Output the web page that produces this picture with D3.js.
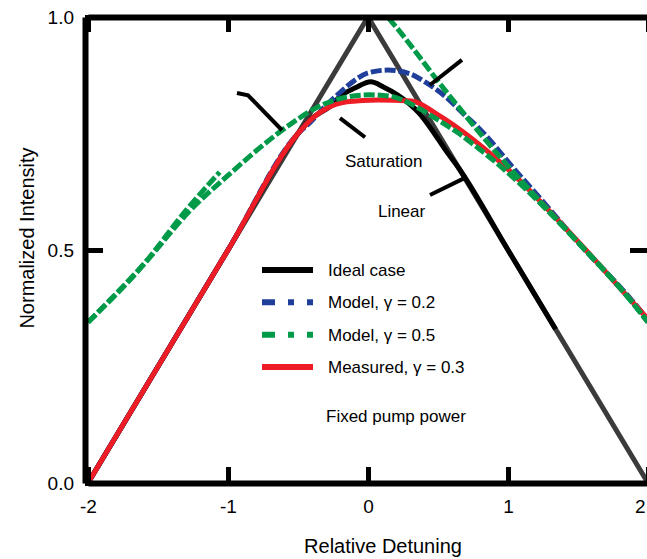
<!DOCTYPE html>
<html>
<head>
<meta charset="utf-8">
<script src="https://cdn.jsdelivr.net/npm/d3@7/dist/d3.min.js"></script>
<style>
  html, body { margin: 0; padding: 0; background: #fff; }
  svg text { font-family: "Liberation Sans", Arial, sans-serif; fill: #000; }
</style>
</head>
<body>
<svg id="chart" width="647" height="559"></svg>
<script>
// ---- data -------------------------------------------------------------
const xTickValues = [-2, -1, 0, 1, 2];
const xTickLabels = ["-2", "-1", "0", "1", "2"];
const yTickValues = [0, 0.5, 1];
const yTickLabels = ["0.0", "0.5", "1.0"];

// ideal triangular response
const tentSeries = [[-2, 0], [0, 1], [2, 0]];
// rounded response (black)
const blackSeries = [[-2, 0], [-1, 0.5], [-0.5, 0.75], [-0.39, 0.785], [-0.27, 0.808],
  [-0.19, 0.832], [-0.09, 0.848], [0.02, 0.861], [0.11, 0.85], [0.21, 0.833], [0.37, 0.792],
  [0.46, 0.756], [0.55, 0.716], [0.65, 0.675], [1, 0.5], [1.34, 0.33]];
const blueSeries = [[-2, 0], [-1.5, 0.25], [-1, 0.5], [-0.5, 0.75], [-0.41, 0.775], [-0.3, 0.81],
  [-0.2, 0.838], [-0.1, 0.863], [0.0, 0.88], [0.14, 0.886], [0.3, 0.878], [0.41, 0.86],
  [0.55, 0.83], [0.69, 0.79], [0.79, 0.762], [1.05, 0.672], [1.29, 0.59],
  [1.46, 0.53], [1.89, 0.39], [2, 0.35]];
const greenLowerSeries = [[-2, 0.345], [-1.6, 0.47], [-1.27, 0.585], [-1.0, 0.66], [-0.75, 0.725],
  [-0.53, 0.775], [-0.37, 0.805], [-0.2, 0.825], [0.01, 0.833], [0.16, 0.83], [0.26, 0.82],
  [0.37, 0.803], [0.5, 0.779], [0.64, 0.752], [0.79, 0.718], [0.91, 0.689], [1.05, 0.652],
  [1.464, 0.528], [1.886, 0.388], [2, 0.345]];
const greenUpperSeries = [[-2, 0.345], [-1.6, 0.47], [-1.3, 0.585], [-1.06, 0.667],
  null,
  [0.08, 1.02], [0.157, 0.994], [0.55, 0.843], [0.871, 0.725], [1.464, 0.528], [1.886, 0.388], [2, 0.345]];
const redSeries = [[-2, 0], [-1.5, 0.25], [-1, 0.5], [-0.5, 0.75], [-0.4, 0.782], [-0.3, 0.803],
  [-0.15, 0.818], [0.07, 0.822], [0.31, 0.82], [0.5, 0.79], [0.87, 0.708],
  [1.51, 0.515], [1.93, 0.375], [2, 0.352]];

const legendLabels = ["Ideal case", "Model, \u03b3 = 0.2", "Model, \u03b3 = 0.5", "Measured, \u03b3 = 0.3"];
const legendColors = ["#000000", "#1f3f9a", "#009a49", "#ee1c25"];
const legendDashes = [null, "13,13,6,13,6", "13,13,6,13,6", null];

// ---- layout -----------------------------------------------------------
const svg = d3.select("#chart");
const x = d3.scaleLinear().domain([-2, 2]).range([88, 648]);
const y = d3.scaleLinear().domain([0, 1]).range([483, 17]);

const smooth = d3.line()
  .defined(d => d !== null)
  .x(d => x(d[0]))
  .y(d => y(d[1]))
  .curve(d3.curveMonotoneX);
const straight = d3.line().x(d => x(d[0])).y(d => y(d[1]));

svg.append("defs").append("clipPath").attr("id", "plot-clip")
  .append("rect").attr("x", 84).attr("y", 16).attr("width", 570).attr("height", 470);

const plot = svg.append("g").attr("clip-path", "url(#plot-clip)");

function drawSeries(data, gen, color, width, dash) {
  plot.append("path")
    .datum(data)
    .attr("d", gen)
    .attr("fill", "none")
    .attr("stroke", color)
    .attr("stroke-width", width)
    .attr("stroke-dasharray", dash)
    .attr("stroke-linejoin", "miter");
}

drawSeries(tentSeries, straight, "#3b3b3b", 5, null);
drawSeries(blackSeries, smooth, "#000000", 5, null);
drawSeries(blueSeries, smooth, "#1f3f9a", 5, "11,3");
drawSeries(redSeries, smooth, "#ee1c25", 5, null);
drawSeries(greenLowerSeries, smooth, "#009a49", 5, "11,3");
drawSeries(greenUpperSeries, smooth, "#009a49", 5, "11,3");

// ---- axes -------------------------------------------------------------
function styleAxis(g) {
  g.select(".domain").attr("stroke", "#000").attr("stroke-width", 6);
  g.selectAll(".tick line").attr("stroke", "#000").attr("stroke-width", 5);
  g.selectAll(".tick text").style("font-size", "19px").attr("fill", "#000");
}

const bottomAxis = svg.append("g").attr("transform", "translate(0,483)")
  .call(d3.axisBottom(x).tickValues(xTickValues)
    .tickFormat((d, i) => xTickLabels[i])
    .tickSizeInner(-16).tickSizeOuter(0).tickPadding(17))
  .call(styleAxis);
// keep the last label inside the page
bottomAxis.selectAll(".tick text").filter(d => d === 2)
  .attr("text-anchor", "end").attr("dx", "-3px");

svg.append("g").attr("transform", "translate(0,17)")
  .call(d3.axisTop(x).tickValues(xTickValues).tickFormat("")
    .tickSizeInner(-15).tickSizeOuter(0))
  .call(styleAxis);

svg.append("g").attr("transform", "translate(85,0)")
  .call(d3.axisLeft(y).tickValues(yTickValues)
    .tickFormat((d, i) => yTickLabels[i])
    .tickSizeInner(-18).tickSizeOuter(0).tickPadding(11))
  .call(styleAxis);

svg.append("g").attr("transform", "translate(650,0)")
  .call(d3.axisRight(y).tickValues(yTickValues).tickFormat("")
    .tickSizeInner(-20).tickSizeOuter(0))
  .call(styleAxis);

// axis titles
svg.append("text")
  .attr("x", 383).attr("y", 553)
  .attr("text-anchor", "middle")
  .style("font-size", "20px")
  .text("Relative Detuning");

svg.append("text")
  .attr("transform", "translate(34,238) rotate(-90)")
  .attr("text-anchor", "middle")
  .style("font-size", "20px")
  .text("Normalized Intensity");

// ---- legend -----------------------------------------------------------
const legend = svg.append("g");
const legendY = d3.scalePoint().domain(d3.range(legendLabels.length)).range([270, 367]);
legendLabels.forEach((label, i) => {
  const ly = legendY(i);
  legend.append("line")
    .attr("x1", 262).attr("x2", 313).attr("y1", ly).attr("y2", ly)
    .attr("stroke", legendColors[i]).attr("stroke-width", 6)
    .attr("stroke-dasharray", legendDashes[i]);
  legend.append("text")
    .attr("x", 328).attr("y", ly + 6)
    .style("font-size", "17px")
    .text(label);
});

// ---- annotations ------------------------------------------------------
const leaders = [
  [[-0.936, 0.837], [-0.857, 0.832], [-0.614, 0.757]],
  [[0.671, 0.908], [0.443, 0.854]],
  [[0.707, 0.657], [0.443, 0.618]],
  [[-0.021, 0.742], [-0.2, 0.783]]
];
leaders.forEach(pts => {
  svg.append("path").attr("d", straight(pts))
    .attr("fill", "none").attr("stroke", "#000").attr("stroke-width", 4);
});

svg.append("text").attr("x", x(-0.164)).attr("y", y(0.678))
  .style("font-size", "17px").text("Saturation");
svg.append("text").attr("x", x(0.071)).attr("y", y(0.571))
  .style("font-size", "17px").text("Linear");
svg.append("text").attr("x", x(-0.3)).attr("y", y(0.131))
  .style("font-size", "17px").text("Fixed pump power");
</script>
</body>
</html>
